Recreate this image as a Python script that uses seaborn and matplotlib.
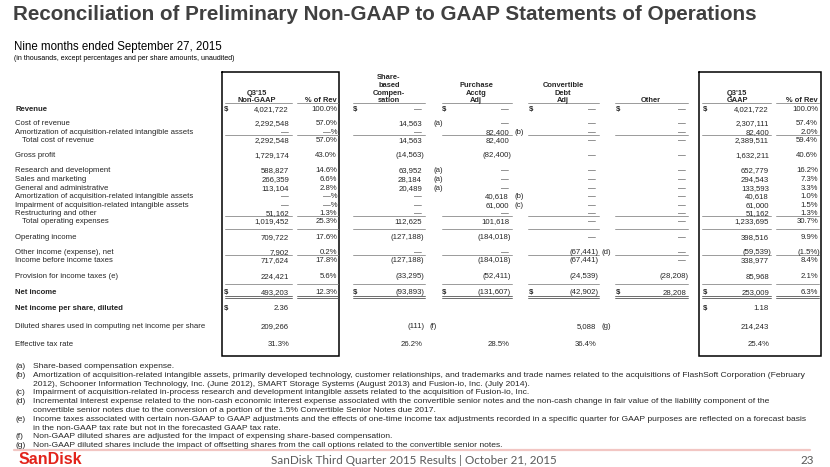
import matplotlib
matplotlib.use("Agg")
import matplotlib.pyplot as plt
import seaborn as sns

sns.set_theme(style="white")
plt.rcParams['font.family'] = ['Liberation Sans', 'DejaVu Sans']

D = "\u2014"

# --- data ---
row_labels = ["Revenue", "Cost of revenue", "Amortization of acquisition-related intangible assets",
              "Total cost of revenue", "Gross profit", "Research and development", "Sales and marketing",
              "General and administrative", "Amortization of acquisition-related intangible assets",
              "Impairment of acquisition-related intangible assets", "Restructuring and other",
              "Total operating expenses", "Operating income", "Other income (expense), net",
              "Income before income taxes", "Provision for income taxes (e)", "Net income",
              "Net income per share, diluted", "Diluted shares used in computing net income per share",
              "Effective tax rate"]
nongaap = ["4,021,722", "2,292,548", D, "2,292,548", "1,729,174", "588,827", "266,359", "113,104", D, D,
           "51,162", "1,019,452", "709,722", "7,902", "717,624", "224,421", "493,203", "2.36", "209,266", "31.3%"]
nongaap_pct = ["100.0%", "57.0%", D + "%", "57.0%", "43.0%", "14.6%", "6.6%", "2.8%", D + "%", D + "%",
               "1.3%", "25.3%", "17.6%", "0.2%", "17.8%", "5.6%", "12.3%", "", "", ""]
sbc = [D, "14,563", D, "14,563", "(14,563)", "63,952", "28,184", "20,489", D, D, D, "112,625",
       "(127,188)", D, "(127,188)", "(33,295)", "(93,893)", "", "(111)", "26.2%"]
sbc_note = ["", "(a)", "", "", "", "(a)", "(a)", "(a)", "", "", "", "", "", "", "", "", "", "", "(f)", ""]
purchase = [D, D, "82,400", "82,400", "(82,400)", D, D, D, "40,618", "61,000", D, "101,618",
            "(184,018)", D, "(184,018)", "(52,411)", "(131,607)", "", "", "28.5%"]
purchase_note = ["", "", "(b)", "", "", "", "", "", "(b)", "(c)", "", "", "", "", "", "", "", "", "", ""]
convertible = [D, D, D, D, D, D, D, D, D, D, D, D, D, "(67,441)", "(67,441)", "(24,539)", "(42,902)",
               "", "5,088", "36.4%"]
convertible_note = ["", "", "", "", "", "", "", "", "", "", "", "", "", "(d)", "", "", "", "", "(g)", ""]
other = [D, D, D, D, D, D, D, D, D, D, D, D, D, D, D, "(28,208)", "28,208", "", "", ""]
gaap = ["4,021,722", "2,307,111", "82,400", "2,389,511", "1,632,211", "652,779", "294,543", "133,593",
        "40,618", "61,000", "51,162", "1,233,695", "398,516", "(59,539)", "338,977", "85,968", "253,009",
        "1.18", "214,243", "25.4%"]
gaap_pct = ["100.0%", "57.4%", "2.0%", "59.4%", "40.6%", "16.2%", "7.3%", "3.3%", "1.0%", "1.5%", "1.3%",
            "30.7%", "9.9%", "(1.5%)", "8.4%", "2.1%", "6.3%", "", "", ""]

col_headers = [["Q3'15", "Non-GAAP"], ["% of Rev"], ["Share-", "based", "Compen-", "sation"],
               ["Purchase", "Acctg", "Adj"], ["Convertible", "Debt", "Adj"], ["Other"],
               ["Q3'15", "GAAP"], ["% of Rev"]]

footnotes = [
    ("(a)", ["Share-based compensation expense."]),
    ("(b)", ["Amortization of acquisition-related intangible assets, primarily developed technology, customer relationships, and trademarks and trade names related to the acquisitions of FlashSoft Corporation (February",
             "2012), Schooner Information Technology, Inc. (June 2012), SMART Storage Systems (August 2013) and Fusion-io, Inc. (July 2014)."]),
    ("(c)", ["Impairment of acquisition-related in-process research and development intangible assets related to the acquisition of Fusion-io, Inc."]),
    ("(d)", ["Incremental interest expense related to the non-cash economic interest expense associated with the convertible senior notes and the non-cash change in fair value of the liability component of the",
             "convertible senior notes due to the conversion of a portion of the 1.5% Convertible Senior Notes due 2017."]),
    ("(e)", ["Income taxes associated with certain non-GAAP to GAAP adjustments and the effects of one-time income tax adjustments recorded in a specific quarter for GAAP purposes are reflected on a forecast basis",
             "in the non-GAAP tax rate but not in the forecasted GAAP tax rate."]),
    ("(f)", ["Non-GAAP diluted shares are adjusted for the impact of expensing share-based compensation."]),
    ("(g)", ["Non-GAAP diluted shares include the impact of offsetting shares from the call options related to the convertible senior notes."]),
]

# --- layout (pixels) ---
row_y = [108, 122, 131, 139, 154, 169, 178, 187, 195, 204, 212, 220, 236, 251, 259, 275, 291, 307, 325, 343]
bold_rows = {0, 16, 17}
indent_rows = {3, 11}
dollar_rows = {0: range(8), 16: range(8), 17: [0, 6]}
num_right = [289, 337, 422, 509, 596, 686, 769, 818]
line_left = [225, 297, 353, 442, 528, 615, 702, 776]
line_right = [292, 338, 425, 512, 599, 688, 771, 819]
dollar_x = [224, None, 353, 442, 529, 616, 703, None]
note_x = {2: 433, 3: 514, 4: 601}
header_x = [257, 337, 389, 476, 563, 651, 737, 818]
header_y = [76, 84, 92, 99]
FS = 5.6
DY = 2.9   # baseline offset from row centre

columns = [nongaap, nongaap_pct, sbc, purchase, convertible, other, gaap, gaap_pct]
notes = {2: sbc_note, 3: purchase_note, 4: convertible_note}

fig = plt.figure(figsize=(8.3, 4.67), dpi=100)
ax = fig.add_axes([0, 0, 1, 1])
ax.set_xlim(0, 830)
ax.set_ylim(467, 0)
ax.axis("off")

ax.text(13, 15, "Reconciliation of Preliminary Non-GAAP to GAAP Statements of Operations",
        fontsize=14.9, fontweight="bold", color="#404040", va="center")
ax.text(14, 47, "Nine months ended September 27, 2015", fontsize=8.3, color="black", va="center")
ax.text(14, 59, "(in thousands, except percentages and per share amounts, unaudited)",
        fontsize=5.0, color="black", va="center")

# headers
for c, lines in enumerate(col_headers):
    n = len(lines)
    for k, t in enumerate(lines):
        ha = "right" if c in (1, 7) else "center"
        ax.text(header_x[c], header_y[4 - n + k] + DY, t, fontsize=FS - 0.2, fontweight="bold",
                ha=ha, va="baseline")

# boxes
for x0, x1 in [(222, 339), (699, 821)]:
    ax.plot([x0, x0, x1, x1, x0], [72, 356, 356, 72, 72], color="black", lw=1.1,
            solid_joinstyle="miter")

# body
for i, lab in enumerate(row_labels):
    y = row_y[i] + DY
    ax.text(22 if i in indent_rows else 15, y, lab, fontsize=FS, va="baseline",
            fontweight="bold" if i in bold_rows else "normal")
    for c, col in enumerate(columns):
        v = col[i]
        if v:
            x = num_right[c] + (2.2 if v.endswith(")") else 0)
            ax.text(x, y, v, fontsize=FS, ha="right", va="baseline")
        if c in notes and notes[c][i]:
            ax.text(note_x[c] if c != 2 or col[i] != "(111)" else 429, y, notes[c][i],
                    fontsize=FS, ha="left", va="baseline")
    if i in dollar_rows:
        for c in dollar_rows[i]:
            if dollar_x[c] is not None:
                ax.text(dollar_x[c], y, "$", fontsize=FS, fontweight="bold", ha="left", va="baseline")

# rules under header / subtotals
rule_y = [103, 135, 216, 229, 255, 284]
for y in rule_y:
    for a, b in zip(line_left, line_right):
        ax.plot([a, b], [y, y], color="#8a8a8a", lw=0.6)
for y in (295.5, 297.5):
    for a, b in zip(line_left, line_right):
        ax.plot([a, b], [y, y], color="#555555", lw=0.6)

# footnotes
fy = 365
for tag, lines in footnotes:
    ax.text(15, fy + 3, tag, fontsize=6.0, va="baseline")
    for t in lines:
        ax.text(33, fy + 3, t, fontsize=6.1, va="baseline")
        fy += 8.8

# footer
ax.plot([14, 810], [450, 450], color="#f2c6c3", lw=1.6)
ax.text(19, 460, "SanDisk", fontsize=11.5, fontweight="bold", color="#e2231a", va="center",
        family=["Liberation Sans Narrow", "Liberation Sans"])
ax.text(414, 460, "SanDisk Third Quarter 2015 Results | October 21, 2015", fontsize=8.4,
        color="#595959", ha="center", va="center", family=["Lato", "DejaVu Sans"])
ax.text(814, 460, "23", fontsize=8.4, color="#595959", ha="right", va="center",
        family=["Lato", "DejaVu Sans"])

fig.savefig("out.png", dpi=100)
